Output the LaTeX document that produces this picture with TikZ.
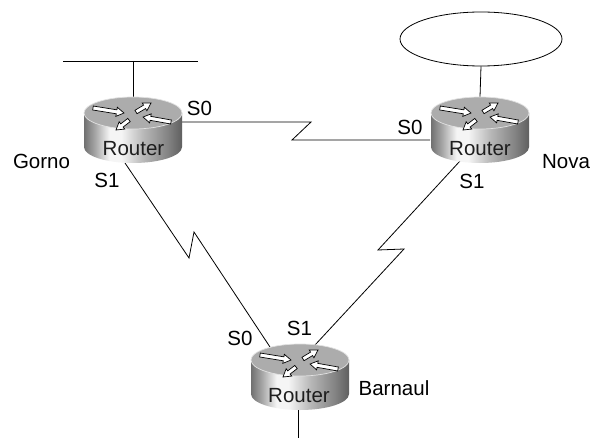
\documentclass[tikz,border=0pt]{standalone}
\usepackage{fontspec}
\setmainfont{Liberation Sans}
\usetikzlibrary{shapes.geometric}
\definecolor{rsA}{RGB}{112,112,112}
\definecolor{rsB}{RGB}{170,170,170}
\definecolor{rsC}{RGB}{245,245,245}
\definecolor{rsD}{RGB}{185,185,185}
\definecolor{rsE}{RGB}{130,130,130}
\definecolor{rsF}{RGB}{95,95,95}
\definecolor{rtop}{RGB}{172,172,172}
\definecolor{rrim}{RGB}{225,225,225}
\definecolor{rtext}{RGB}{30,30,30}
\pgfdeclarehorizontalshading{routerside}{100bp}{color(0bp)=(rsA); color(25bp)=(rsA); color(31bp)=(rsB); color(38bp)=(rsC); color(44bp)=(rsC); color(55bp)=(rsD); color(68bp)=(rsE); color(75bp)=(rsF); color(100bp)=(rsF)}
\tikzset{
  lbl/.style={font=\fontsize{20.5}{24}\selectfont, inner sep=0pt, anchor=base},
  rlbl/.style={lbl, text=rtext},
  link/.style={draw=black, line width=0.8pt, line join=miter},
  rarrow/.style={fill=white, draw=black, line width=0.7pt, line join=miter},
}
\newcommand\rtarrow[4]{%
  \begin{scope}[shift={(#1,#2)},rotate=#3]
    \filldraw[rarrow] (0,-2) -- (#4-7.5,-2) -- (#4-7.5,-4.6) -- (#4,0) -- (#4-7.5,4.6) -- (#4-7.5,2) -- (0,2) -- cycle;
  \end{scope}}
\newcommand\routerbody[2]{%
  \shade[shading=routerside] (#1-49,#2) -- (#1-49,#2+34) arc[start angle=180,end angle=360,x radius=49pt,y radius=16pt] -- (#1+49,#2) -- cycle;
  \filldraw[fill=rtop, draw=rrim, line width=0.7pt] (#1,#2) ellipse[x radius=49pt, y radius=16pt];
  \rtarrow{#1-40}{#2-5}{-9.2}{31.4}
  \rtarrow{#1+3}{#2-1}{31}{17.5}
  \rtarrow{#1-4}{#2+7}{217.6}{16.4}
  \rtarrow{#1+38}{#2+9}{169.9}{28.4}
}
\begin{document}
\begin{tikzpicture}[x=1pt,y=-1pt]
\useasboundingbox (0,0) rectangle (591,441);
\fill[white] (0,0) rectangle (591,441);

% port coordinates
\coordinate (busL) at (63,61);
\coordinate (busR) at (198,61);
\coordinate (busT) at (133,61);
\coordinate (gTop) at (133,97);
\coordinate (gS0) at (182,122);
\coordinate (zA1) at (311,122);
\coordinate (zA2) at (292,140);
\coordinate (nS0) at (430,140);
\coordinate (gS1) at (125,163);
\coordinate (zB1) at (189,258);
\coordinate (zB2) at (194,232);
\coordinate (bS0) at (270,347);
\coordinate (nS1) at (460,161);
\coordinate (zC1) at (378,250);
\coordinate (zC2) at (404,249);
\coordinate (bS1) at (315,345);
\coordinate (nTop) at (480,97);
\coordinate (bBot) at (298,410);
\coordinate (bEnd) at (298,438);

\node[draw=black, line width=0.8pt, ellipse, minimum width=162pt, minimum height=54pt, inner sep=0pt] (cloud) at (481,39) {};

% connectors
\draw[link] (busL) -- (busR);
\draw[link] (busT) -- (gTop);
\draw[link] (cloud.south) -- (nTop);
\draw[link] (gS0) -- (zA1) -- (zA2) -- (nS0);
\draw[link] (gS1) -- (zB1) -- (zB2) -- (bS0);
\draw[link] (nS1) -- (zC1) -- (zC2) -- (bS1);
\draw[link] (bBot) -- (bEnd);

% routers
\routerbody{133}{113}
\routerbody{480}{113}
\routerbody{300}{360}

% router labels
\node[rlbl] (gRouter) at (133.5,155) {Router};
\node[rlbl] (nRouter) at (480,155) {Router};
\node[rlbl] (bRouter) at (299,402) {Router};

% names
\node[lbl] (gorno) at (41.5,168) {Gorno};
\node[lbl] (nova) at (566,168) {Nova};
\node[lbl] (barnaul) at (394,395) {Barnaul};

% port labels
\node[lbl] (gS0l) at (199.5,115) {S0};
\node[lbl] (gS1l) at (107,187) {S1};
\node[lbl] (nS0l) at (410,135) {S0};
\node[lbl] (nS1l) at (472,188) {S1};
\node[lbl] (bS0l) at (240,345) {S0};
\node[lbl] (bS1l) at (299.5,335) {S1};
\end{tikzpicture}
\end{document}
